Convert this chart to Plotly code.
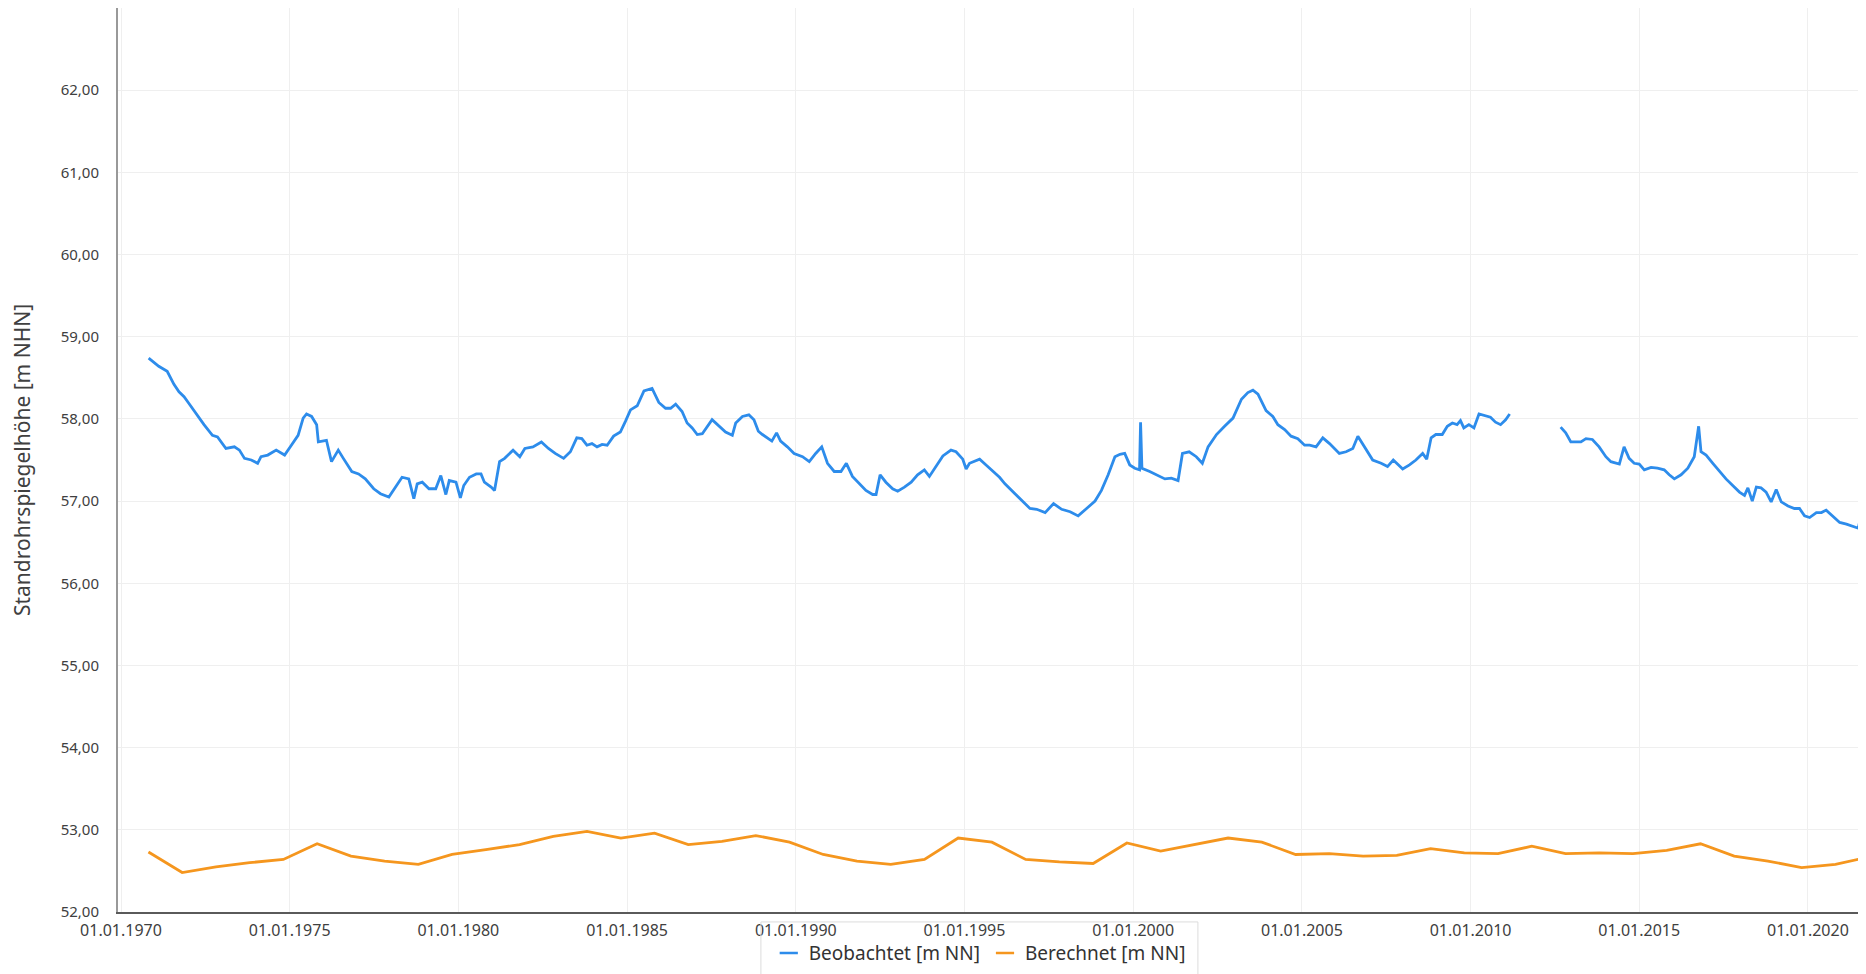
import plotly.graph_objects as go
import pandas as pd

# Beobachtet: decimal years and levels (gap 2011-2012)
obs_year = [
    1970.82, 1971.12, 1971.37, 1971.57, 1971.72, 1971.87, 1972.01, 1972.21, 1972.46, 1972.71,
    1972.86, 1973.11, 1973.36, 1973.51, 1973.66, 1973.86, 1974.05, 1974.15, 1974.35, 1974.60,
    1974.85, 1975.05, 1975.25, 1975.40, 1975.50, 1975.65, 1975.80, 1975.85, 1976.09, 1976.24,
    1976.44, 1976.59, 1976.84, 1977.04, 1977.24, 1977.49, 1977.69, 1977.94, 1978.18, 1978.33,
    1978.53, 1978.68, 1978.78, 1978.93, 1979.13, 1979.33, 1979.48, 1979.63, 1979.73, 1979.93,
    1980.06, 1980.16, 1980.33, 1980.53, 1980.67, 1980.77, 1980.97, 1981.07, 1981.22, 1981.37,
    1981.62, 1981.82, 1981.97, 1982.21, 1982.46,
    1982.67, 1982.87, 1983.12, 1983.32, 1983.51, 1983.66, 1983.81, 1983.96, 1984.11, 1984.26,
    1984.41, 1984.60, 1984.80, 1984.95, 1985.10, 1985.30, 1985.50, 1985.74, 1985.94, 1986.14,
    1986.29, 1986.44, 1986.63, 1986.78, 1986.93, 1987.08, 1987.23, 1987.52, 1987.72, 1987.92,
    1988.12, 1988.22, 1988.42, 1988.61, 1988.76, 1988.89, 1989.01, 1989.16, 1989.29, 1989.43,
    1989.55, 1989.75, 1989.95, 1990.20, 1990.40, 1990.59, 1990.77, 1990.94, 1991.14, 1991.34,
    1991.50, 1991.68, 1991.88, 1992.08, 1992.28, 1992.38, 1992.50, 1992.67, 1992.87, 1993.02,
    1993.22, 1993.42, 1993.61, 1993.81, 1993.96, 1994.16, 1994.36, 1994.60, 1994.75, 1994.95,
    1995.05, 1995.15, 1995.45, 1995.64,
    1995.84, 1996.04, 1996.20, 1996.45, 1996.70, 1996.94, 1997.14, 1997.39, 1997.64, 1997.88,
    1998.13, 1998.37, 1998.62, 1998.87, 1999.06, 1999.26, 1999.46, 1999.61, 1999.75, 1999.90,
    2000.05, 2000.19, 2000.22, 2000.26, 2000.49, 2000.69, 2000.94, 2001.13, 2001.33, 2001.46,
    2001.66, 2001.87, 2002.05, 2002.22, 2002.47, 2002.71, 2002.96, 2003.21, 2003.40, 2003.55,
    2003.70, 2003.94, 2004.14, 2004.29, 2004.49, 2004.68, 2004.88, 2005.08, 2005.23, 2005.42,
    2005.62, 2005.82, 2006.11, 2006.31, 2006.51, 2006.66, 2006.80, 2007.10, 2007.35, 2007.54,
    2007.71, 2007.99, 2008.19, 2008.38, 2008.58, 2008.70, 2008.83, 2008.97,
    2009.16, 2009.31, 2009.46, 2009.60, 2009.70, 2009.80, 2009.95, 2010.10, 2010.25, 2010.40,
    2010.59, 2010.74, 2010.89, 2011.04, 2011.16,
    2011.90,
    2012.67, 2012.82, 2012.97, 2013.12, 2013.27, 2013.42, 2013.61, 2013.81, 2014.01, 2014.16,
    2014.41, 2014.55, 2014.70, 2014.85, 2015.00, 2015.15, 2015.35, 2015.54, 2015.74, 2015.89,
    2016.04, 2016.24, 2016.44, 2016.63, 2016.76, 2016.83, 2016.98, 2017.18, 2017.38, 2017.57,
    2017.77, 2017.97, 2018.12, 2018.22, 2018.35, 2018.47, 2018.61, 2018.76, 2018.91, 2019.06,
    2019.21, 2019.41, 2019.60, 2019.75, 2019.90, 2020.05, 2020.25, 2020.40, 2020.54, 2020.74,
    2020.94, 2021.14, 2021.29, 2021.49, 2021.58, 2021.71,
]
obs_level = [
    58.74, 58.64, 58.58, 58.42, 58.33, 58.27, 58.19, 58.07, 57.93, 57.80,
    57.78, 57.64, 57.66, 57.62, 57.52, 57.50, 57.46, 57.54, 57.56, 57.62,
    57.56, 57.68, 57.80, 58.01, 58.06, 58.03, 57.93, 57.72, 57.74, 57.48,
    57.62, 57.52, 57.36, 57.33, 57.27, 57.15, 57.09, 57.05, 57.19, 57.29,
    57.27, 57.03, 57.21, 57.23, 57.15, 57.15, 57.31, 57.08, 57.25, 57.23,
    57.04, 57.19, 57.29, 57.33, 57.33, 57.23, 57.17, 57.13, 57.48, 57.52,
    57.62, 57.54, 57.64, 57.66, 57.72,
    57.64, 57.58, 57.52, 57.60, 57.77, 57.76, 57.68, 57.70, 57.66, 57.69,
    57.68, 57.79, 57.84, 57.97, 58.11, 58.16, 58.34, 58.37, 58.20, 58.13,
    58.13, 58.18, 58.09, 57.95, 57.89, 57.81, 57.82, 57.99, 57.92, 57.84,
    57.80, 57.95, 58.03, 58.05, 57.99, 57.85, 57.81, 57.77, 57.73, 57.83,
    57.73, 57.66, 57.58, 57.54, 57.48, 57.58, 57.66, 57.46, 57.36, 57.36,
    57.46, 57.30, 57.21, 57.13, 57.08, 57.08, 57.32, 57.23, 57.15, 57.12,
    57.17, 57.23, 57.32, 57.38, 57.30, 57.42, 57.55, 57.62, 57.60, 57.51,
    57.39, 57.46, 57.51, 57.44,
    57.36, 57.29, 57.21, 57.11, 57.01, 56.91, 56.90, 56.86, 56.97, 56.90,
    56.87, 56.82, 56.91, 57.00, 57.13, 57.32, 57.54, 57.57, 57.58, 57.44,
    57.40, 57.38, 57.96, 57.40, 57.36, 57.32, 57.27, 57.28, 57.25, 57.58,
    57.60, 57.54, 57.46, 57.66, 57.81, 57.91, 58.01, 58.24, 58.32, 58.35,
    58.30, 58.10, 58.03, 57.93, 57.87, 57.79, 57.76, 57.68, 57.68, 57.66,
    57.77, 57.70, 57.58, 57.60, 57.64, 57.79, 57.70, 57.50, 57.46, 57.42,
    57.50, 57.39, 57.44, 57.50, 57.58, 57.51, 57.77, 57.81,
    57.81, 57.91, 57.95, 57.93, 57.98, 57.89, 57.93, 57.89, 58.06, 58.04,
    58.02, 57.96, 57.93, 57.99, 58.06,
    None,
    57.90, 57.83, 57.72, 57.72, 57.72, 57.76, 57.75, 57.66, 57.54, 57.48,
    57.45, 57.66, 57.52, 57.46, 57.45, 57.38, 57.41, 57.40, 57.38, 57.32,
    57.27, 57.32, 57.40, 57.54, 57.91, 57.60, 57.56, 57.46, 57.36, 57.27,
    57.19, 57.11, 57.07, 57.16, 57.00, 57.17, 57.16, 57.11, 56.99, 57.14,
    56.99, 56.94, 56.91, 56.91, 56.82, 56.80, 56.86, 56.86, 56.89, 56.82,
    56.74, 56.72, 56.70, 56.67, 56.84, 56.86,
]

# Berechnet: one value per year (autumn)
calc_year = list(range(1970, 2022))
calc_level = [
    52.73, 52.48, 52.55, 52.60, 52.64, 52.83, 52.68, 52.62, 52.58, 52.70,
    52.76, 52.82, 52.92, 52.98, 52.90, 52.96, 52.82, 52.86, 52.93, 52.85,
    52.70, 52.62, 52.58, 52.64, 52.90, 52.85, 52.64, 52.61, 52.59, 52.84,
    52.74, 52.82, 52.90, 52.85, 52.70, 52.71, 52.68, 52.69, 52.77, 52.72,
    52.71, 52.80, 52.71, 52.72, 52.71, 52.75, 52.83, 52.68, 52.62, 52.54,
    52.58, 52.67,
]

BLUE = '#2d8ceb'
ORANGE = '#f5961e'


def dec_to_date(y):
    year = int(y)
    start = pd.Timestamp(year, 1, 1)
    return start + (pd.Timestamp(year + 1, 1, 1) - start) * (y - year)


obs_dates = [dec_to_date(y) for y in obs_year]
calc_dates = [pd.Timestamp(y, 10, 25) for y in calc_year]

fig = go.Figure()
fig.add_trace(go.Scatter(
    x=obs_dates, y=obs_level, mode='lines', connectgaps=False,
    line=dict(color=BLUE, width=2.8), showlegend=False,
    name='Beobachtet [m NN]'
))
fig.add_trace(go.Scatter(
    x=calc_dates, y=calc_level, mode='lines',
    line=dict(color=ORANGE, width=2.8), showlegend=False,
    name='Berechnet [m NN]'
))
# legend entries with a short dash symbol
for name, color in [('Beobachtet [m NN]', BLUE), ('Berechnet [m NN]', ORANGE)]:
    fig.add_trace(go.Scatter(
        x=[None], y=[None], mode='markers', name=name,
        marker=dict(symbol='line-ew', size=13, line=dict(color=color, width=2.5))
    ))

# page body adds an 8px offset, so the figure is 8px smaller each way
fig.update_layout(
    width=1858, height=966,
    margin=dict(l=110, r=0, t=0, b=62, autoexpand=False),
    paper_bgcolor='white', plot_bgcolor='white',
    separators=',.',
    font=dict(family='Noto Sans', color='#404040', size=15),
    legend=dict(
        orientation='h', x=0.493, xanchor='center', y=-0.0455, yanchor='middle',
        font=dict(size=19, color='#333333'), itemwidth=30,
        bgcolor='rgba(0,0,0,0)'
    ),
    shapes=[dict(
        type='rect', xref='paper', yref='paper',
        x0=0.3678, x1=0.6178, y0=-0.011, y1=-0.09,
        line=dict(color='#dcdcdc', width=1), layer='above'
    )],
)
fig.update_xaxes(
    type='date',
    range=[dec_to_date(1969.911), dec_to_date(2021.72)],
    tick0='1970-01-01', dtick='M60', tickformat='%d.%m.%Y',
    showgrid=True, gridcolor='#efefef', gridwidth=1,
    showline=True, linecolor='#5a5a5a', linewidth=2,
    zeroline=False, ticks='', ticklabelstandoff=3,
    tickfont=dict(size=16)
)
fig.update_yaxes(
    range=[52, 63.0], tick0=52, dtick=1, tickformat='.2f',
    showgrid=True, gridcolor='#efefef', gridwidth=1,
    showline=True, linecolor='#999999', linewidth=2,
    zeroline=False, ticks='', ticklabelstandoff=14,
    tickfont=dict(size=15),
    title=dict(text='Standrohrspiegelhöhe [m NHN]', font=dict(size=21), standoff=24)
)

fig.write_html('out.html')
